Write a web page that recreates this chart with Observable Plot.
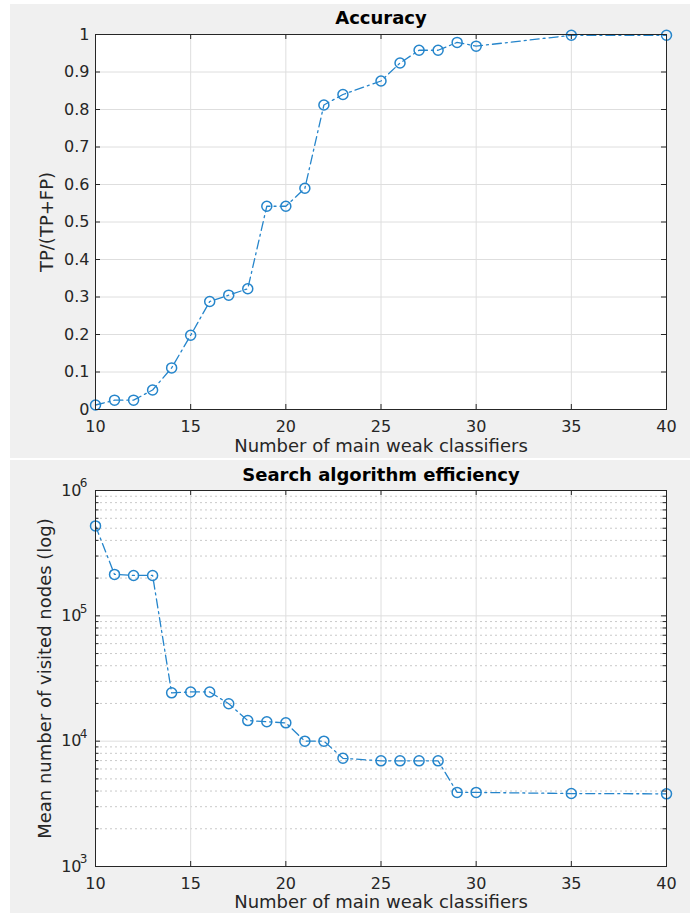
<!DOCTYPE html>
<html>
<head>
<meta charset="utf-8">
<script src="https://cdn.jsdelivr.net/npm/d3@7"></script>
<script src="https://cdn.jsdelivr.net/npm/@observablehq/plot@0.6"></script>
<style>
  html, body { margin: 0; padding: 0; background: #ffffff; }
  body { width: 697px; height: 913px; position: relative; overflow: hidden; }
  .panel { position: absolute; left: 10px; width: 680px; background: #f0f0f0; }
  #top { top: 4px; height: 454px; }
  #bottom { top: 460px; height: 453px; }
  .panel svg { display: block; }
</style>
</head>
<body>
<div class="panel" id="top"></div>
<div class="panel" id="bottom"></div>
<script>
// ---- data ----
const nClassifiers = [10, 11, 12, 13, 14, 15, 16, 17, 18, 19, 20, 21, 22, 23, 25, 26, 27, 28, 29, 30, 35, 40];
const accuracy = [0.012, 0.025, 0.025, 0.052, 0.111, 0.198, 0.288, 0.305, 0.322, 0.542, 0.542, 0.590, 0.812, 0.840, 0.876, 0.924, 0.958, 0.958, 0.979, 0.969, 0.998, 0.998];
const visitedNodes = [522000, 214000, 210000, 210000, 24300, 24700, 24700, 19900, 14600, 14300, 14000, 10000, 10000, 7300, 6970, 6970, 6970, 6970, 3900, 3900, 3820, 3800];

const xTicks = [10, 15, 20, 25, 30, 35, 40];
const accTicks = [0, 0.1, 0.2, 0.3, 0.4, 0.5, 0.6, 0.7, 0.8, 0.9, 1];
const logMajor = [1e3, 1e4, 1e5, 1e6];
const logExponents = ["3", "4", "5", "6"];
const logMinorMultipliers = [2, 3, 4, 5, 6, 7, 8, 9];

const titles = ["Accuracy", "Search algorithm efficiency"];
const xLabel = "Number of main weak classifiers";
const yLabels = ["TP/(TP+FP)", "Mean number of visited nodes (log)"];

// ---- tables built from the arrays ----
const accData = nClassifiers.map((n, i) => ({n, v: accuracy[i]}));
const nodeData = nClassifiers.map((n, i) => ({n, v: visitedNodes[i]}));
const logMinor = logMajor.slice(0, -1).flatMap(d => logMinorMultipliers.map(m => m * d));
const expData = logMajor.map((v, i) => ({v, e: logExponents[i]}));

// ---- styles ----
const blue = "#2585cb";
const axisColor = "#262626";
const gridColor = "#dedede";
const minorGridColor = "#c9c9c9";
const font = "DejaVu Sans";
const W = 680;

function panel({height, mT, mB, yOpts, yTicks, yMinor, data, title, yLabel, titleDy, xLabDy, yLabDx, tickFmt, yPad, exps}) {
  const mL = 85, mR = 24;
  const pw = W - mL - mR, ph = height - mT - mB;
  const marks = [
    Plot.frame({fill: "white", stroke: null}),
  ];
  if (yMinor) marks.push(Plot.gridY(yMinor, {stroke: minorGridColor, strokeOpacity: 1, strokeDasharray: "2,3"}));
  marks.push(
    Plot.gridX(xTicks, {stroke: gridColor, strokeOpacity: 1}),
    Plot.gridY(yTicks, {stroke: gridColor, strokeOpacity: 1}),
    Plot.line(data, {x: "n", y: "v", stroke: blue, strokeWidth: 1.3, strokeDasharray: "9,4,2,4"}),
    Plot.dot(data, {x: "n", y: "v", r: 5, stroke: blue, strokeWidth: 1.5, fill: "none"}),
    // inward ticks
    Plot.tickY(yTicks, {y: d => d, insetRight: pw - 5, stroke: axisColor}),
    Plot.tickY(yTicks, {y: d => d, insetLeft: pw - 5, stroke: axisColor}),
    Plot.tickX(xTicks, {x: d => d, insetTop: ph - 5, stroke: axisColor}),
    Plot.tickX(xTicks, {x: d => d, insetBottom: ph - 5, stroke: axisColor}),
  );
  if (yMinor) {
    marks.push(
      Plot.tickY(yMinor, {y: d => d, insetRight: pw - 3.5, stroke: axisColor}),
      Plot.tickY(yMinor, {y: d => d, insetLeft: pw - 3.5, stroke: axisColor})
    );
  }
  marks.push(
    Plot.frame({stroke: axisColor, strokeWidth: 1}),
    Plot.axisX(xTicks, {tickSize: 0, tickPadding: 11, label: null, fontSize: 16, fill: axisColor}),
    Plot.axisY(yTicks, {tickSize: 0, tickPadding: yPad, label: null, fontSize: 16, fill: axisColor, tickFormat: tickFmt}),
    Plot.text([title], {text: d => d, frameAnchor: "top", lineAnchor: "middle", dy: titleDy, fontSize: 18, fontWeight: "bold", fill: "#000"}),
    Plot.text([xLabel], {text: d => d, frameAnchor: "bottom", lineAnchor: "middle", dy: xLabDy, fontSize: 18, fill: axisColor}),
    Plot.text([yLabel], {text: d => d, frameAnchor: "left", textAnchor: "middle", lineAnchor: "middle", dx: yLabDx, rotate: -90, fontSize: 18, fill: axisColor})
  );
  if (exps) {
    marks.push(Plot.text(exps, {y: "v", text: "e", frameAnchor: "left", textAnchor: "end", dx: -8, dy: -7, fontSize: 12, fill: axisColor}));
  }
  return Plot.plot({
    width: W, height,
    marginLeft: mL, marginRight: mR, marginTop: mT, marginBottom: mB,
    style: {fontFamily: font, fontSize: "16px", background: "transparent", color: axisColor, overflow: "visible"},
    x: {domain: [10, 40]},
    y: yOpts,
    marks
  });
}

document.getElementById("top").appendChild(panel({
  height: 454, mT: 30, mB: 49,
  yOpts: {domain: [0, 1]},
  yTicks: accTicks, yMinor: null, data: accData,
  title: titles[0], yLabel: yLabels[0],
  titleDy: -16, xLabDy: 37, yLabDx: -48,
  tickFmt: d => String(d), yPad: 6, exps: null
}));

document.getElementById("bottom").appendChild(panel({
  height: 453, mT: 30, mB: 47,
  yOpts: {type: "log", domain: [1e3, 1e6]},
  yTicks: logMajor, yMinor: logMinor, data: nodeData,
  title: titles[1], yLabel: yLabels[1],
  titleDy: -15.5, xLabDy: 36, yLabDx: -50,
  tickFmt: () => "10", yPad: 14, exps: expData
}));
</script>
</body>
</html>
